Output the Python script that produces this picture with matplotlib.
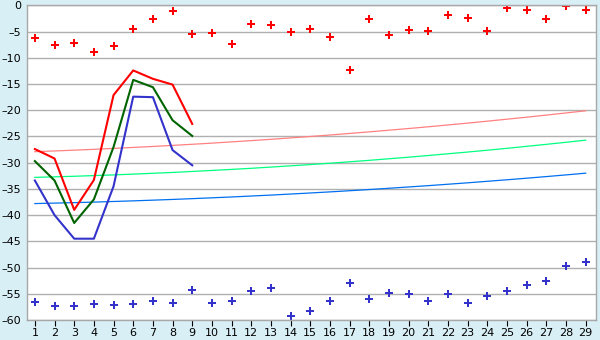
import matplotlib
matplotlib.use("Agg")
import matplotlib.pyplot as plt

# data
days = list(range(1, 30))
days_short = list(range(1, 10))

max_pts = [-6.3, -7.5, -7.2, -8.9, -7.8, -4.5, -2.6, -1.1, -5.4, -5.3,
           -7.4, -3.6, -3.8, -5.1, -4.5, -6.1, -12.4, -2.6, -5.7, -4.7,
           -4.9, -1.9, -2.4, -4.9, -0.5, -0.9, -2.6, -0.15, -0.9]
min_pts = [-56.5, -57.4, -57.4, -56.9, -57.1, -56.9, -56.3, -56.7, -54.2, -56.7,
           -56.3, -54.4, -54.0, -59.3, -58.2, -56.3, -53.0, -56.1, -54.8, -55.1,
           -56.3, -55.1, -56.7, -55.5, -54.4, -53.4, -52.5, -49.8, -49.0]

red_line = [-27.4, -29.2, -39.0, -33.3, -17.1, -12.4, -14.0, -15.1, -22.6]
green_line = [-29.7, -33.4, -41.5, -37.0, -27.0, -14.2, -15.6, -21.9, -24.9]
blue_line = [-33.4, -40.0, -44.5, -44.5, -34.5, -17.4, -17.5, -27.6, -30.5]

pink_trend = [-27.90, -27.76, -27.61, -27.45, -27.27, -27.09, -26.90, -26.70, -26.49, -26.27,
              -26.03, -25.79, -25.54, -25.27, -25.00, -24.72, -24.42, -24.12, -23.80, -23.48,
              -23.15, -22.80, -22.45, -22.08, -21.70, -21.32, -20.92, -20.51, -20.10]
lgreen_trend = [-32.80, -32.70, -32.59, -32.46, -32.33, -32.18, -32.02, -31.86, -31.67, -31.48,
                -31.28, -31.07, -30.84, -30.60, -30.36, -30.10, -29.83, -29.55, -29.25, -28.95,
                -28.63, -28.30, -27.97, -27.62, -27.26, -26.88, -26.50, -26.11, -25.70]
lblue_trend = [-37.80, -37.71, -37.62, -37.52, -37.40, -37.28, -37.15, -37.01, -36.86, -36.70,
               -36.54, -36.36, -36.18, -35.98, -35.78, -35.57, -35.35, -35.12, -34.88, -34.63,
               -34.38, -34.11, -33.84, -33.55, -33.26, -32.96, -32.65, -32.33, -32.00]

bg = "#D9EFF6"
fig = plt.figure(figsize=(6, 3.4), dpi=100, facecolor=bg)
ax = fig.add_axes([0.045, 0.059, 0.9475, 0.925])
ax.set_facecolor("white")

ax.plot(days, pink_trend, color="#FF8080", lw=0.9)
ax.plot(days, lgreen_trend, color="#00FF80", lw=0.9)
ax.plot(days, lblue_trend, color="#0070F0", lw=0.9)

ax.plot(days_short, red_line, color="#FF0000", lw=1.5)
ax.plot(days_short, green_line, color="#006400", lw=1.5)
ax.plot(days_short, blue_line, color="#3333CC", lw=1.5)

ax.plot(days, max_pts, ls="none", marker="P", ms=6, color="#FF0000", mew=0)
ax.plot(days, min_pts, ls="none", marker="P", ms=6, color="#3333CC", mew=0)

ax.set_xlim(0.6, 29.5)
ax.set_ylim(-60, 0)
ax.set_xticks(days)
ax.set_yticks(range(-60, 1, 5))
ax.set_yticklabels([str(v).replace("-", "\u2013") for v in range(-60, 1, 5)])
ax.grid(axis="y", color="#B0B0B0", lw=1)
ax.set_axisbelow(True)
ax.tick_params(axis="x", length=4, color="#000000", labelsize=8, pad=2)
ax.tick_params(axis="y", length=0, labelsize=8, pad=4)
for s in ax.spines.values():
    s.set_color("#A8A8A8")
    s.set_linewidth(1)

fig.savefig("out.png", dpi=100, facecolor=bg)
